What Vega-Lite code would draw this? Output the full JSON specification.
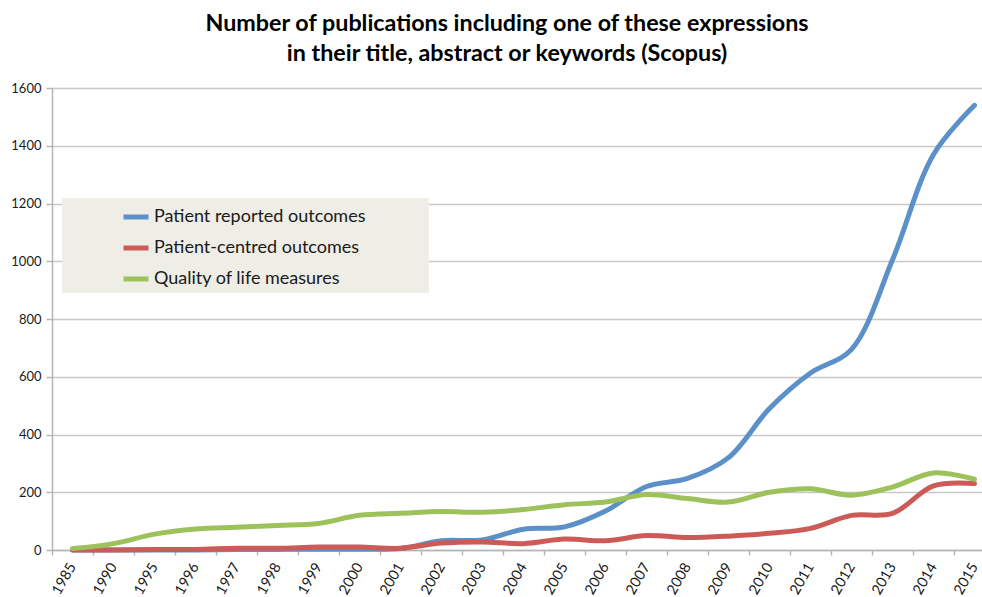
{
  "$schema": "https://vega.github.io/schema/vega-lite/v6.json",
  "width": 930,
  "height": 462,
  "autosize": {"type": "none"},
  "padding": {"left": 52, "top": 88, "right": 0, "bottom": 47},
  "background": "white",
  "title": {
    "text": ["Number of publications including one of these expressions", "in their title, abstract or keywords (Scopus)"],
    "font": "Lato", "fontSize": 23.3, "fontWeight": "bold", "color": "#000000",
    "anchor": "middle", "dx": -10, "offset": 16, "lineHeight": 30
  },
  "data": {
    "values": [
      {"year": "1985", "series": "Patient reported outcomes", "value": 0},
      {"year": "1990", "series": "Patient reported outcomes", "value": 0},
      {"year": "1995", "series": "Patient reported outcomes", "value": 0},
      {"year": "1996", "series": "Patient reported outcomes", "value": 0},
      {"year": "1997", "series": "Patient reported outcomes", "value": 2},
      {"year": "1998", "series": "Patient reported outcomes", "value": 2},
      {"year": "1999", "series": "Patient reported outcomes", "value": 3},
      {"year": "2000", "series": "Patient reported outcomes", "value": 3},
      {"year": "2001", "series": "Patient reported outcomes", "value": 5},
      {"year": "2002", "series": "Patient reported outcomes", "value": 32},
      {"year": "2003", "series": "Patient reported outcomes", "value": 35},
      {"year": "2004", "series": "Patient reported outcomes", "value": 72},
      {"year": "2005", "series": "Patient reported outcomes", "value": 80},
      {"year": "2006", "series": "Patient reported outcomes", "value": 135},
      {"year": "2007", "series": "Patient reported outcomes", "value": 220},
      {"year": "2008", "series": "Patient reported outcomes", "value": 248},
      {"year": "2009", "series": "Patient reported outcomes", "value": 320},
      {"year": "2010", "series": "Patient reported outcomes", "value": 490},
      {"year": "2011", "series": "Patient reported outcomes", "value": 613},
      {"year": "2012", "series": "Patient reported outcomes", "value": 695},
      {"year": "2013", "series": "Patient reported outcomes", "value": 1005},
      {"year": "2014", "series": "Patient reported outcomes", "value": 1370},
      {"year": "2015", "series": "Patient reported outcomes", "value": 1540},
      {"year": "1985", "series": "Patient-centred outcomes", "value": 0},
      {"year": "1990", "series": "Patient-centred outcomes", "value": 0},
      {"year": "1995", "series": "Patient-centred outcomes", "value": 2},
      {"year": "1996", "series": "Patient-centred outcomes", "value": 2},
      {"year": "1997", "series": "Patient-centred outcomes", "value": 6},
      {"year": "1998", "series": "Patient-centred outcomes", "value": 6},
      {"year": "1999", "series": "Patient-centred outcomes", "value": 10},
      {"year": "2000", "series": "Patient-centred outcomes", "value": 10},
      {"year": "2001", "series": "Patient-centred outcomes", "value": 6},
      {"year": "2002", "series": "Patient-centred outcomes", "value": 24},
      {"year": "2003", "series": "Patient-centred outcomes", "value": 28},
      {"year": "2004", "series": "Patient-centred outcomes", "value": 22},
      {"year": "2005", "series": "Patient-centred outcomes", "value": 38},
      {"year": "2006", "series": "Patient-centred outcomes", "value": 32},
      {"year": "2007", "series": "Patient-centred outcomes", "value": 50},
      {"year": "2008", "series": "Patient-centred outcomes", "value": 43},
      {"year": "2009", "series": "Patient-centred outcomes", "value": 48},
      {"year": "2010", "series": "Patient-centred outcomes", "value": 58},
      {"year": "2011", "series": "Patient-centred outcomes", "value": 75},
      {"year": "2012", "series": "Patient-centred outcomes", "value": 120},
      {"year": "2013", "series": "Patient-centred outcomes", "value": 127},
      {"year": "2014", "series": "Patient-centred outcomes", "value": 222},
      {"year": "2015", "series": "Patient-centred outcomes", "value": 230},
      {"year": "1985", "series": "Quality of life measures", "value": 5},
      {"year": "1990", "series": "Quality of life measures", "value": 22},
      {"year": "1995", "series": "Quality of life measures", "value": 55},
      {"year": "1996", "series": "Quality of life measures", "value": 73},
      {"year": "1997", "series": "Quality of life measures", "value": 79},
      {"year": "1998", "series": "Quality of life measures", "value": 85},
      {"year": "1999", "series": "Quality of life measures", "value": 92},
      {"year": "2000", "series": "Quality of life measures", "value": 120},
      {"year": "2001", "series": "Quality of life measures", "value": 127},
      {"year": "2002", "series": "Quality of life measures", "value": 133},
      {"year": "2003", "series": "Quality of life measures", "value": 131},
      {"year": "2004", "series": "Quality of life measures", "value": 140},
      {"year": "2005", "series": "Quality of life measures", "value": 157},
      {"year": "2006", "series": "Quality of life measures", "value": 166},
      {"year": "2007", "series": "Quality of life measures", "value": 192},
      {"year": "2008", "series": "Quality of life measures", "value": 178},
      {"year": "2009", "series": "Quality of life measures", "value": 166},
      {"year": "2010", "series": "Quality of life measures", "value": 200},
      {"year": "2011", "series": "Quality of life measures", "value": 212},
      {"year": "2012", "series": "Quality of life measures", "value": 190},
      {"year": "2013", "series": "Quality of life measures", "value": 218},
      {"year": "2014", "series": "Quality of life measures", "value": 267},
      {"year": "2015", "series": "Quality of life measures", "value": 245}
    ]
  },
  "mark": {"type": "line", "interpolate": "catmull-rom", "strokeWidth": 5, "strokeCap": "round", "strokeJoin": "round"},
  "encoding": {
    "x": {
      "field": "year", "type": "ordinal", "sort": null, "bandPosition": 0.5,
      "scale": {"type": "band", "paddingInner": 0, "paddingOuter": 0, "range": [0, 943]},
      "axis": {
        "title": null, "tickBand": "extent", "grid": false,
        "domainColor": "#b5b5b5", "domainWidth": 1.5, "tickColor": "#b5b5b5", "tickWidth": 1.5, "tickSize": 5,
        "labelAngle": -60, "labelAlign": "right", "labelBaseline": "middle",
        "labelFont": "Lato", "labelFontSize": 14.5, "labelColor": "#1a1a1a", "labelPadding": 9
      }
    },
    "y": {
      "field": "value", "type": "quantitative",
      "scale": {"domain": [0, 1600], "nice": false},
      "axis": {
        "title": null, "values": [0, 200, 400, 600, 800, 1000, 1200, 1400, 1600], "format": "d",
        "grid": true, "gridColor": "#c8c8c8", "gridWidth": 1.5,
        "domainColor": "#b5b5b5", "domainWidth": 1.5, "tickColor": "#b5b5b5", "tickWidth": 1.5, "tickSize": 6,
        "labelFont": "Lato", "labelFontSize": 13, "labelColor": "#1a1a1a", "labelPadding": 5
      }
    },
    "color": {
      "field": "series", "type": "nominal",
      "scale": {
        "domain": ["Patient reported outcomes", "Patient-centred outcomes", "Quality of life measures"],
        "range": ["#5b90c9", "#cc5b58", "#9dc25c"]
      },
      "legend": {
        "title": "\u00a0", "titleOrient": "right", "titlePadding": 60, "titleFontSize": 4,
        "orient": "none", "legendX": 10, "legendY": 110,
        "fillColor": "#eeede6", "padding": 4,
        "symbolType": "stroke", "symbolStrokeWidth": 5, "symbolSize": 625, "symbolOffset": 55,
        "labelFont": "Lato", "labelFontSize": 18, "labelColor": "#1a1a1a", "labelOffset": 3, "labelLimit": 0,
        "rowPadding": 6
      }
    }
  },
  "config": {"view": {"stroke": null}}
}
